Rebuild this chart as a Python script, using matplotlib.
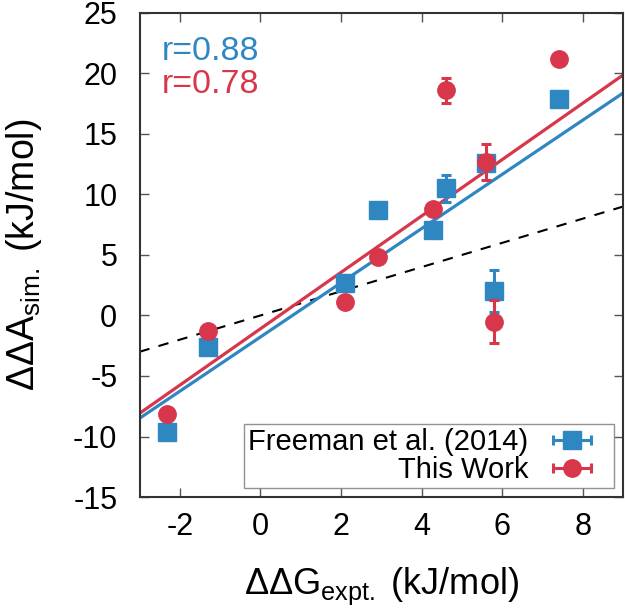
import numpy as np
import matplotlib
matplotlib.use("Agg")
import matplotlib.pyplot as plt
from matplotlib.legend_handler import HandlerErrorbar

plt.rcParams['font.family'] = ['Liberation Sans', 'DejaVu Sans']
plt.rcParams['mathtext.fontset'] = 'custom'
plt.rcParams['mathtext.rm'] = 'Liberation Sans'
plt.rcParams['mathtext.it'] = 'Liberation Sans'
plt.rcParams['mathtext.bf'] = 'Liberation Sans'
plt.rcParams['axes.unicode_minus'] = False

# data
x_expt = [-2.32, -1.29, 2.10, 2.91, 4.29, 4.61, 5.61, 7.42, 5.80]
y_freeman = [-9.6, -2.6, 2.7, 8.7, 7.1, 10.5, 12.6, 17.9, 2.0]
err_freeman = [0.3, 0.3, 0.3, 0.4, 0.3, 1.1, 0.5, 0.3, 1.75]
y_this = [-8.1, -1.3, 1.1, 4.8, 8.8, 18.6, 12.7, 21.2, -0.5]
err_this = [0.3, 0.3, 0.5, 0.3, 0.3, 1.0, 1.5, 0.3, 1.75]

# linear fits (slope, intercept) and correlation
fit_freeman = [2.24, -1.78]
fit_this = [2.33, -1.10]
r_freeman = 0.88
r_this = 0.78

blue = '#2f87c2'
red = '#d7364b'

fig = plt.figure(figsize=(6.25, 6.09), dpi=100)
ax = fig.add_axes([0.2232, 0.1839, 0.7736, 0.7948])

xline = np.array([-3, 9])
ax.plot(xline, xline, color='black', lw=1.5, ls=(0, (5, 4.5)), zorder=1)
ax.plot(xline, fit_freeman[0] * xline + fit_freeman[1], color=blue, lw=2.3, zorder=2)
ax.plot(xline, fit_this[0] * xline + fit_this[1], color=red, lw=2.3, zorder=2)

ax.errorbar(x_expt, y_freeman, yerr=err_freeman, fmt='s', color=blue, ms=12.5,
            elinewidth=2.2, capsize=3.6, capthick=2.2, zorder=3)
ax.errorbar(x_expt, y_this, yerr=err_this, fmt='o', color=red, ms=12.5,
            elinewidth=2.2, capsize=3.6, capthick=2.2, zorder=4)

# proxies for gnuplot-like legend keys
h1 = ax.errorbar([np.nan], [np.nan], xerr=[1], fmt='s', color=blue, ms=12.5,
                 elinewidth=2.2, capsize=3.6, capthick=2.2,
                 label='Freeman et al. (2014)')
h2 = ax.errorbar([np.nan], [np.nan], xerr=[1], fmt='o', color=red, ms=12.5,
                 elinewidth=2.2, capsize=3.6, capthick=2.2, label='This Work')

leg = ax.legend(handles=[h1, h2], loc='lower right', markerfirst=False,
                fontsize=21, frameon=True, fancybox=False, handlelength=2.6,
                handletextpad=0.2, borderpad=0.15, labelspacing=0.0,
                borderaxespad=0.3,
                handler_map={h1: HandlerErrorbar(xerr_size=0.65),
                             h2: HandlerErrorbar(xerr_size=0.65)})
leg.get_frame().set_edgecolor('#777777')
leg.get_frame().set_linewidth(1.0)

ax.text(0.046, 0.903, 'r=%.2f' % r_freeman, color=blue, fontsize=24.5,
        transform=ax.transAxes, va='baseline')
ax.text(0.046, 0.835, 'r=%.2f' % r_this, color=red, fontsize=24.5,
        transform=ax.transAxes, va='baseline')

ax.set_xlim(-3, 9)
ax.set_ylim(-15, 25)
ax.set_xticks([-2, 0, 2, 4, 6, 8])
ax.set_yticks(range(-15, 26, 5))
ax.tick_params(direction='in', top=True, right=True, length=6.5, width=1,
               color='#555555', labelsize=22)
ax.tick_params(axis='x', pad=11)
ax.tick_params(axis='y', pad=16)
for s in ax.spines.values():
    s.set_linewidth(1.5)
    s.set_color('#333333')

ax.set_xlabel(r'$\Delta\Delta\mathrm{G}_{\mathrm{expt.}}$ (kJ/mol)', fontsize=26, labelpad=17)
ax.set_ylabel(r'$\Delta\Delta\mathrm{A}_{\mathrm{sim.}}$ (kJ/mol)', fontsize=27, labelpad=21)

fig.savefig('out.png', dpi=100)
